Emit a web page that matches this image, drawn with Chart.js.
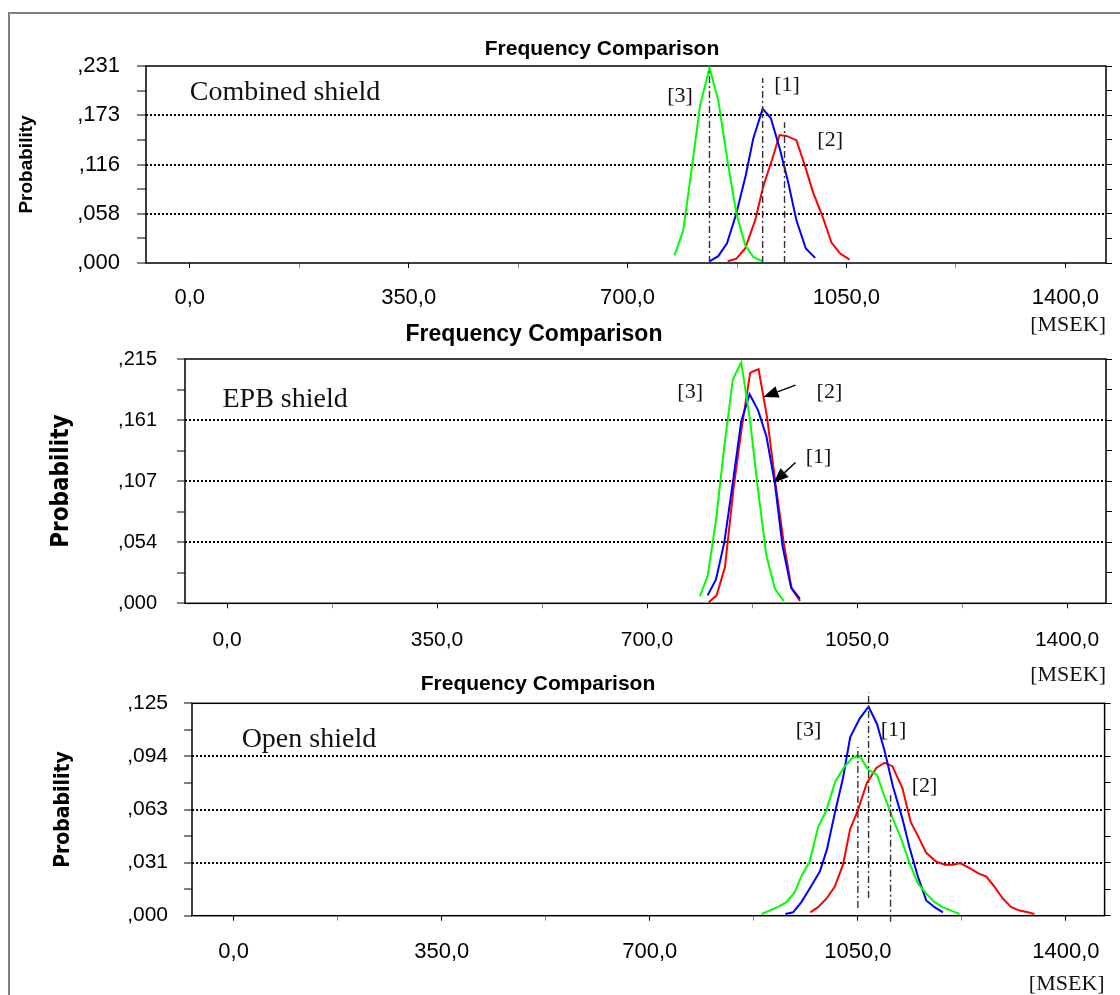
<!DOCTYPE html>
<html><head><meta charset="utf-8">
<script src="https://cdn.jsdelivr.net/npm/chart.js@4.4.1/dist/chart.umd.min.js"></script>
<style>
html,body{margin:0;padding:0;background:#fff;}
body{width:1120px;height:995px;overflow:hidden;position:relative;}
#frame{position:absolute;left:8px;top:12px;width:1300px;height:1100px;border-top:2px solid #808080;border-left:2px solid #808080;}
canvas{position:absolute;}
</style></head><body>
<div id="frame"></div>
<canvas id="c1"></canvas><canvas id="c2"></canvas><canvas id="c3"></canvas>
<script>
// ---------------- data ----------------
const xTickValues = [0, 175, 350, 525, 700, 875, 1050, 1225, 1400];
const xTickLabels = ['0,0', '', '350,0', '', '700,0', '', '1050,0', '', '1400,0'];
const xMin = -70, xMax = 1465;

// Combined shield
const combinedYMax = 0.231;
const combinedYTickLabels = [',000', '', ',058', '', ',116', '', ',173', '', ',231'];
const combinedGreenX = [775, 789, 803, 816, 831, 845, 860, 874, 888, 901, 916];
const combinedGreenY = [0.009, 0.038, 0.113, 0.185, 0.229, 0.191, 0.119, 0.058, 0.021, 0.007, 0.002];
const combinedBlueX = [831, 845, 859, 874, 889, 901, 916, 929, 943, 957, 970, 985, 1000];
const combinedBlueY = [0.002, 0.008, 0.023, 0.058, 0.103, 0.146, 0.181, 0.170, 0.135, 0.094, 0.050, 0.017, 0.006];
const combinedRedX = [860, 874, 888, 904, 917, 931, 943, 954, 970, 984, 997, 1012, 1026, 1040, 1055];
const combinedRedY = [0.002, 0.005, 0.017, 0.050, 0.090, 0.121, 0.150, 0.149, 0.144, 0.113, 0.082, 0.054, 0.024, 0.011, 0.004];
const combinedMarkX = [831, 916, 951];
const combinedMarkFrom = [0, 0, 0];
const combinedMarkTo = [0.229, 0.217, 0.165];

// EPB shield
const epbYMax = 0.215;
const epbYTickLabels = [',000', '', ',054', '', ',107', '', ',161', '', ',215'];
const epbGreenX = [788, 801, 815, 829, 843, 857, 871, 885, 899, 913, 928];
const epbGreenY = [0.006, 0.024, 0.073, 0.139, 0.197, 0.212, 0.164, 0.100, 0.042, 0.013, 0.002];
const epbBlueX = [801, 815, 829, 843, 857, 871, 885, 899, 913, 926, 940, 955];
const epbBlueY = [0.007, 0.021, 0.054, 0.106, 0.160, 0.184, 0.170, 0.147, 0.106, 0.050, 0.014, 0.004];
const epbRedX = [803, 816, 830, 844, 858, 872, 886, 900, 914, 928, 941, 955];
const epbRedY = [0.001, 0.007, 0.032, 0.100, 0.155, 0.203, 0.206, 0.164, 0.106, 0.053, 0.013, 0.002];

// Open shield
const openYMax = 0.125;
const openYTickLabels = [',000', '', ',031', '', ',063', '', ',094', '', ',125'];
const openGreenX = [888, 901, 915, 930, 944, 956, 969, 983, 997, 1012, 1026, 1041, 1053, 1067, 1082, 1095, 1109, 1123, 1137, 1151, 1165, 1179, 1193, 1207, 1221];
const openGreenY = [0.001, 0.003, 0.005, 0.008, 0.014, 0.024, 0.032, 0.052, 0.062, 0.079, 0.087, 0.093, 0.094, 0.086, 0.083, 0.070, 0.057, 0.045, 0.031, 0.019, 0.013, 0.008, 0.005, 0.003, 0.001];
const openBlueX = [928, 941, 955, 969, 986, 998, 1011, 1025, 1037, 1053, 1068, 1082, 1095, 1109, 1125, 1137, 1151, 1165, 1179, 1193];
const openBlueY = [0.001, 0.002, 0.008, 0.016, 0.026, 0.039, 0.060, 0.081, 0.105, 0.116, 0.123, 0.113, 0.097, 0.076, 0.057, 0.040, 0.023, 0.009, 0.005, 0.002];
const openRedX = [970, 983, 997, 1011, 1025, 1037, 1050, 1065, 1081, 1095, 1108, 1125, 1139, 1151, 1165, 1181, 1196, 1210, 1222, 1238, 1252, 1266, 1280, 1294, 1308, 1322, 1336, 1347];
const openRedY = [0.002, 0.005, 0.010, 0.017, 0.030, 0.051, 0.062, 0.078, 0.087, 0.090, 0.088, 0.075, 0.055, 0.047, 0.037, 0.032, 0.030, 0.030, 0.031, 0.028, 0.025, 0.023, 0.017, 0.010, 0.005, 0.003, 0.002, 0.001];
const openMarkX = [1050, 1068, 1105];
const openMarkFrom = [0.0045, 0.0104, -0.0035];
const openMarkTo = [0.0993, 0.1314, 0.071];

// ---------------- styling / layout ----------------
const SANS = "'Liberation Sans', Arial, Helvetica, sans-serif";
const SERIF = "'Liberation Serif', 'Times New Roman', serif";
const NARROW = "'Liberation Sans Narrow', 'Arial Narrow', 'DejaVu Sans Condensed', sans-serif";

const panels = [
  {
    id: 'c1', canvas: {x: 0, y: 0, w: 1204, h: 340},
    titleSize: 21, titlePadTop: 36.4, titlePadBottom: 4.4,
    xAxisH: 77, xTickPad: 16.5, xTickSize: 22, unitPadBottom: 1.8,
    yAxisW: 146, yTickPad: 17, yTickLen: 9, yTickSize: 22,
    yTitleFont: {family: SANS, size: 19, weight: 'bold'}, yTitlePad: 15.6, y2W: 98,
    yMax: combinedYMax, yTickLabels: combinedYTickLabels,
    green: [combinedGreenX, combinedGreenY], blue: [combinedBlueX, combinedBlueY], red: [combinedRedX, combinedRedY],
    marks: [combinedMarkX, combinedMarkFrom, combinedMarkTo],
    name: 'Combined shield', nameAt: [0, 0.1993],
    tags: [{text: '[3]', x: 784, y: 0.196}, {text: '[1]', x: 955, y: 0.209}, {text: '[2]', x: 1024, y: 0.144}],
    arrows: []
  },
  {
    id: 'c2', canvas: {x: -52, y: 320, w: 1172, h: 372},
    titleSize: 23, titlePadTop: 1.2, titlePadBottom: 10.2,
    xAxisH: 88.7, xTickPad: 19.1, xTickSize: 21, unitPadBottom: 3.8,
    yAxisW: 237, yTickPad: 20, yTickLen: 8, yTickSize: 20,
    yTitleFont: {family: NARROW, size: 24, weight: 'bold'}, yTitlePad: 99.6, y2W: 14,
    yMax: epbYMax, yTickLabels: epbYTickLabels,
    green: [epbGreenX, epbGreenY], blue: [epbBlueX, epbBlueY], red: [epbRedX, epbRedY],
    marks: [[], [], []],
    name: 'EPB shield', nameAt: [-7.5, 0.1789],
    tags: [{text: '[3]', x: 772, y: 0.186}, {text: '[2]', x: 1004, y: 0.186}, {text: '[1]', x: 986, y: 0.129}],
    arrows: [{from: [947.5, 0.192], to: [894, 0.1815]}, {from: [947.5, 0.124], to: [911, 0.106]}]
  },
  {
    id: 'c3', canvas: {x: -44, y: 668, w: 1164, h: 335},
    titleSize: 21, titlePadTop: 3.4, titlePadBottom: 6.7,
    xAxisH: 87.3, xTickPad: 18.1, xTickSize: 22, unitPadBottom: 5.8,
    yAxisW: 236, yTickPad: 16, yTickLen: 8, yTickSize: 21,
    yTitleFont: {family: NARROW, size: 21, weight: 'bold'}, yTitlePad: 95.4, y2W: 15.4,
    yMax: openYMax, yTickLabels: openYTickLabels,
    green: [openGreenX, openGreenY], blue: [openBlueX, openBlueY], red: [openRedX, openRedY],
    marks: [openMarkX, openMarkFrom, openMarkTo],
    name: 'Open shield', nameAt: [13.5, 0.1034],
    tags: [{text: '[3]', x: 967, y: 0.109}, {text: '[1]', x: 1110, y: 0.109}, {text: '[2]', x: 1162, y: 0.076}],
    arrows: []
  }
];

const framePlugin = {
  id: 'frame',
  beforeDatasetsDraw(chart) {
    const a = chart.chartArea, c = chart.ctx;
    c.save();
    c.strokeStyle = '#000'; c.lineWidth = 1.5;
    c.strokeRect(a.left, a.top, a.right - a.left, a.bottom - a.top);
    c.restore();
  }
};

function annotPlugin(p) {
  return {
    id: 'annot',
    afterDatasetsDraw(chart) {
      const xs = chart.scales.x, ys = chart.scales.y, c = chart.ctx;
      c.save();
      c.fillStyle = '#111'; c.textBaseline = 'middle';
      c.font = '28px ' + SERIF; c.textAlign = 'left';
      c.fillText(p.name, xs.getPixelForValue(p.nameAt[0]), ys.getPixelForValue(p.nameAt[1]));
      c.font = '22px ' + SERIF; c.textAlign = 'center';
      p.tags.forEach(t => c.fillText(t.text, xs.getPixelForValue(t.x), ys.getPixelForValue(t.y)));
      c.fillStyle = '#000'; c.strokeStyle = '#000'; c.lineWidth = 1.4;
      p.arrows.forEach(a => {
        const x1 = xs.getPixelForValue(a.from[0]), y1 = ys.getPixelForValue(a.from[1]);
        const x2 = xs.getPixelForValue(a.to[0]), y2 = ys.getPixelForValue(a.to[1]);
        const ang = Math.atan2(y2 - y1, x2 - x1), L = 15, W = 6;
        const bx = x2 - L * Math.cos(ang), by = y2 - L * Math.sin(ang);
        c.beginPath(); c.moveTo(x1, y1); c.lineTo(bx, by); c.stroke();
        c.beginPath(); c.moveTo(x2, y2);
        c.lineTo(bx - W * Math.sin(ang), by + W * Math.cos(ang));
        c.lineTo(bx + W * Math.sin(ang), by - W * Math.cos(ang));
        c.closePath(); c.fill();
      });
      c.restore();
    }
  };
}

function makePanel(p) {
  const cv = document.getElementById(p.id);
  cv.width = p.canvas.w; cv.height = p.canvas.h;
  cv.style.left = p.canvas.x + 'px'; cv.style.top = p.canvas.y + 'px';
  cv.style.width = p.canvas.w + 'px'; cv.style.height = p.canvas.h + 'px';
  const yTicks = [0, 1, 2, 3, 4, 5, 6, 7, 8].map(k => p.yMax * k / 8);
  const curve = (xy, color) => ({
    data: xy[0].map((x, i) => ({x: x, y: xy[1][i]})),
    borderColor: color, borderWidth: 2, pointRadius: 0, tension: 0, fill: false
  });
  const datasets = [];
  p.marks[0].forEach((mx, i) => datasets.push({
    data: [{x: mx, y: p.marks[1][i]}, {x: mx, y: p.marks[2][i]}],
    borderColor: '#333', borderWidth: 1.4, borderDash: [7, 3, 2, 3], pointRadius: 0, clip: false
  }));
  datasets.push(curve(p.green, '#00ff00'));
  datasets.push(curve(p.blue, '#0000ff'));
  datasets.push(curve(p.red, '#ff0000'));

  new Chart(cv, {
    type: 'line',
    data: {datasets: datasets},
    options: {
      responsive: false, animation: false, devicePixelRatio: 1,
      layout: {padding: 0},
      plugins: {
        legend: {display: false}, tooltip: {enabled: false},
        title: {display: true, text: 'Frequency Comparison', color: '#000',
          font: {family: SANS, size: p.titleSize, weight: 'bold'},
          padding: {top: p.titlePadTop, bottom: p.titlePadBottom}}
      },
      scales: {
        x: {
          type: 'linear', min: xMin, max: xMax,
          afterBuildTicks: s => { s.ticks = xTickValues.map(v => ({value: v})); },
          afterFit: s => { s.height = p.xAxisH; },
          ticks: {autoSkip: false, maxRotation: 0, minRotation: 0, padding: p.xTickPad, color: '#000',
            font: {family: SANS, size: p.xTickSize}, callback: (v, i) => xTickLabels[i]},
          grid: {drawOnChartArea: false, drawTicks: true, tickLength: 5, tickWidth: 1,
            tickColor: ctx => ctx.index % 2 === 0 ? '#000' : '#888'},
          border: {display: false},
          title: {display: true, text: '[MSEK]', align: 'end', color: '#111',
            font: {family: SERIF, size: 22}, padding: {top: 0, bottom: p.unitPadBottom}}
        },
        y: {
          type: 'linear', position: 'left', min: 0, max: p.yMax,
          afterBuildTicks: s => { s.ticks = yTicks.map(v => ({value: v})); },
          afterFit: s => { s.width = p.yAxisW; },
          ticks: {autoSkip: false, padding: p.yTickPad, color: '#000',
            font: {family: SANS, size: p.yTickSize}, callback: (v, i) => p.yTickLabels[i]},
          grid: {drawOnChartArea: true, color: '#000',
            lineWidth: ctx => (ctx.index === 2 || ctx.index === 4 || ctx.index === 6) ? 2 : 0,
            tickLength: p.yTickLen, tickWidth: 1, tickColor: '#000'},
          border: {display: false, dash: [2, 2]},
          title: {display: true, text: 'Probability', color: '#000', font: p.yTitleFont,
            padding: {top: p.yTitlePad, bottom: 0}}
        },
        y2: {
          type: 'linear', position: 'right', min: 0, max: p.yMax,
          afterBuildTicks: s => { s.ticks = yTicks.map(v => ({value: v})); },
          afterFit: s => { s.width = p.y2W; },
          ticks: {autoSkip: false, padding: 0, callback: () => ''},
          grid: {drawOnChartArea: false, tickLength: 6, tickWidth: 1, tickColor: '#000', color: '#000'},
          border: {display: false}
        }
      }
    },
    plugins: [framePlugin, annotPlugin(p)]
  });
}

panels.forEach(makePanel);
</script>
</body></html>
